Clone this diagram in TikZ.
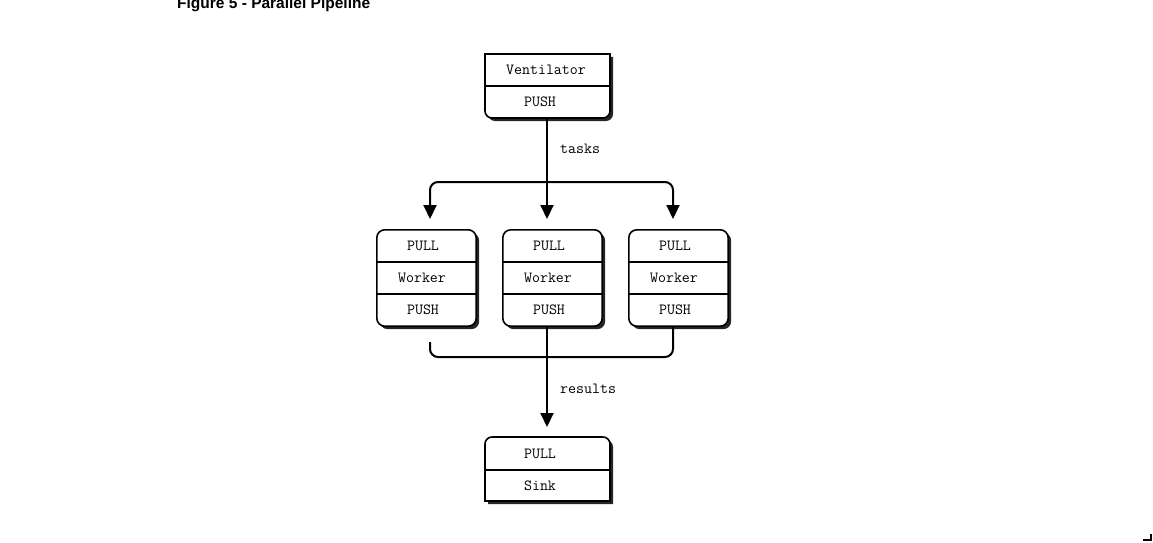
\documentclass[tikz,border=0pt]{standalone}
\usepackage{fontspec}
\newfontfamily\titlefont{Liberation Sans}
\usetikzlibrary{arrows.meta}
\begin{document}
\begin{tikzpicture}[x=1pt,y=1pt,
  lbl/.style={font=\fontsize{15.5}{17}\selectfont\ttfamily, inner sep=0},
  boxnode/.style={inner sep=0, draw=none},
  outline/.style={line width=1.6pt, fill=white},
  shade/.style={fill=black!85},
  conn/.style={line width=2pt},
  arr/.style={line width=2pt, -{Triangle[length=14pt,width=13pt]}}
]
\useasboundingbox (0,0) rectangle (1153,-543);

% title
\node[anchor=base west, inner sep=0, font=\titlefont\bfseries\fontsize{15.5}{17}\selectfont] (title) at (177,-9) {Figure 5 - Parallel Pipeline};

% ---------- Ventilator ----------
\node[boxnode, minimum width=125pt, minimum height=64pt] (vent) at (547.5,-86) {};
\path[shade, shift={(3,-3)}] (485,-54) -- (610,-54) -- (610,-111) arc[start angle=0,end angle=-90,radius=7] -- (492,-118) arc[start angle=270,end angle=180,radius=7] -- cycle;
\draw[outline] (485,-54) -- (610,-54) -- (610,-111) arc[start angle=0,end angle=-90,radius=7] -- (492,-118) arc[start angle=270,end angle=180,radius=7] -- cycle;
\draw[line width=1.6pt] (vent.west) -- (vent.east);
\node[lbl] (ventA) at (546,-70) {Ventilator};
\node[lbl] (ventB) at (540,-102) {PUSH};

% ---------- Workers ----------
\foreach \n/\cx in {w1/426.5, w2/552.5, w3/678.5}{
  \node[boxnode, minimum width=99pt, minimum height=96pt] (\n) at (\cx,-278) {};
  \fill[shade, rounded corners=8pt] ([shift={(3,-3)}]\n.north west) rectangle ([shift={(3,-3)}]\n.south east);
  \draw[outline, rounded corners=8pt] (\n.north west) rectangle (\n.south east);
  \draw[line width=1.6pt] ([yshift=16pt]\n.west) -- ([yshift=16pt]\n.east);
  \draw[line width=1.6pt] ([yshift=-16pt]\n.west) -- ([yshift=-16pt]\n.east);
  \node[lbl] (\n a) at ([shift={(-3.5,32)}]\n.center) {PULL};
  \node[lbl] (\n b) at ([shift={(-4.5,0)}]\n.center) {Worker};
  \node[lbl] (\n c) at ([shift={(-3.5,-32)}]\n.center) {PUSH};
}

% ---------- Sink ----------
\node[boxnode, minimum width=125pt, minimum height=64pt] (sink) at (547.5,-469) {};
\path[shade, shift={(3,-3)}] (485,-501) -- (485,-444) arc[start angle=180,end angle=90,radius=7] -- (603,-437) arc[start angle=90,end angle=0,radius=7] -- (610,-501) -- cycle;
\draw[outline] (485,-501) -- (485,-444) arc[start angle=180,end angle=90,radius=7] -- (603,-437) arc[start angle=90,end angle=0,radius=7] -- (610,-501) -- cycle;
\draw[line width=1.6pt] (485,-470) -- (610,-470);
\node[lbl] (sinkA) at (540,-454) {PULL};
\node[lbl] (sinkB) at (540,-486) {Sink};

% ---------- connectors ----------
\coordinate (tj) at (547,-182);
\coordinate (t1) at (430,-219);
\coordinate (t2) at (547,-219);
\coordinate (t3) at (673,-219);
\draw[arr] (vent.south -| tj) -- (t2);
\draw[arr, rounded corners=8pt] (tj) -| (t1);
\draw[arr, rounded corners=8pt] (tj) -| (t3);
\node[lbl, anchor=west] (tasks) at (560,-149) {tasks};

\coordinate (rj) at (547,-357);
\coordinate (r1) at (430,-342);
\coordinate (r3) at (673,-326);
\coordinate (sinkin) at (547,-427);
\draw[conn, rounded corners=8pt] (r1) |- (rj);
\draw[conn, rounded corners=8pt] (r3) |- (rj);
\draw[arr] (w2.south -| tj) -- (sinkin);
\node[lbl, anchor=west] (results) at (560,-389) {results};

% corner mark
\draw[line width=2pt] (1143,-540) -- (1151,-540) -- (1151,-534);
\end{tikzpicture}
\end{document}
